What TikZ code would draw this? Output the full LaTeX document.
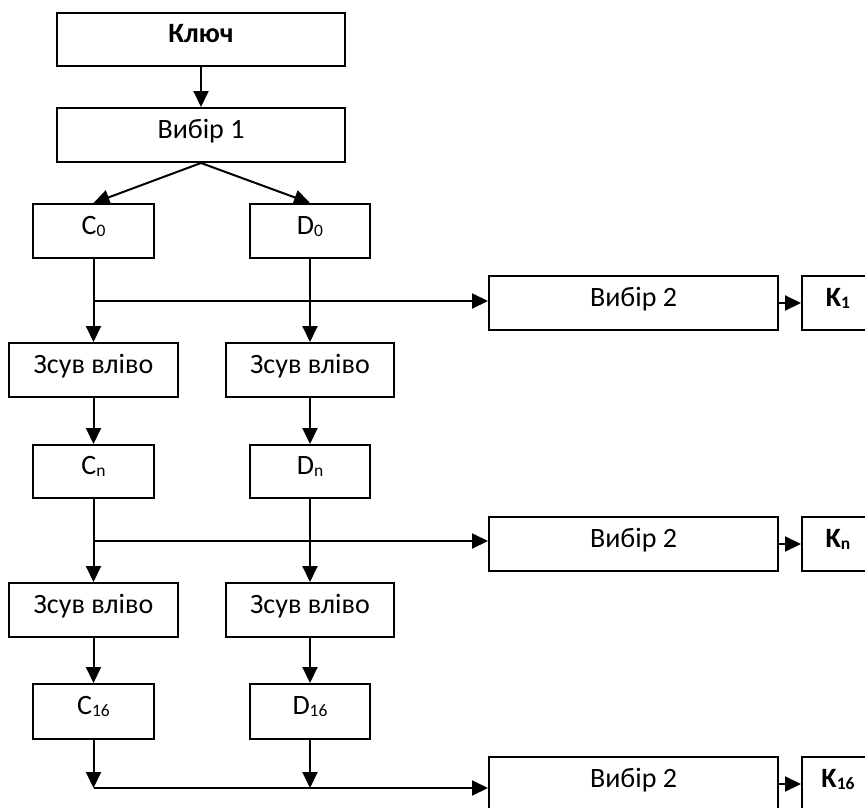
\documentclass[tikz,border=0pt]{standalone}
\usepackage{fontspec}
\setmainfont{Carlito}
\usetikzlibrary{arrows.meta}
% small lowered index, as in C0, Dn, K16
\newcommand\idx[1]{\raisebox{-2pt}{\fontsize{17.5}{18}\selectfont #1}}
\newcommand\boxfont{\fontsize{28}{34}\selectfont}
\begin{document}
\begin{tikzpicture}[x=1pt,y=-1pt,
  box/.style={draw, line width=2pt, minimum height=54pt, inner sep=0pt,
    text height=12pt, text depth=6pt, font=\boxfont},
  boldbox/.style={box, font=\boxfont\bfseries},
  arr/.style={line width=2pt, -{Triangle[length=16pt,width=15pt]}}]
\useasboundingbox (0,0) rectangle (865,808);
\fill[white] (0,0) rectangle (865,808);
\clip (0,0) rectangle (865,808);

% key and first permuted choice
\node[boldbox, minimum width=288pt, minimum height=53pt] (key) at (201,39.5) {Ключ};
\node[box, minimum width=288pt] (sel1) at (201,135) {Вибір 1};

% C and D halves
\node[box, minimum width=121pt] (c0) at (93.5,231) {C\idx{0}};
\node[box, minimum width=120pt] (d0) at (310,231) {D\idx{0}};
\node[box, minimum width=169pt] (sa1) at (93.5,370) {Зсув вліво};
\node[box, minimum width=168pt] (sb1) at (310,370) {Зсув вліво};
\node[box, minimum width=121pt, minimum height=53pt] (cn) at (93.5,471.5) {C\idx{n}};
\node[box, minimum width=120pt, minimum height=53pt] (dn) at (310,471.5) {D\idx{n}};
\node[box, minimum width=169pt] (sa2) at (93.5,610) {Зсув вліво};
\node[box, minimum width=168pt] (sb2) at (310,610) {Зсув вліво};
\node[box, minimum width=121pt, minimum height=55pt] (c16) at (93.5,711.5) {C\idx{16}};
\node[box, minimum width=120pt, minimum height=55pt] (d16) at (310,711.5) {D\idx{16}};

% second permuted choice and round keys
\node[box, minimum width=289pt] (v1) at (633.5,303) {Вибір 2};
\node[boldbox, minimum width=72pt] (k1) at (838,303) {K\idx{1}};
\node[box, minimum width=289pt] (v2) at (633.5,544) {Вибір 2};
\node[boldbox, minimum width=72pt] (kn) at (838,544) {K\idx{n}};
\node[box, minimum width=289pt] (v3) at (633.5,784) {Вибір 2};
\node[boldbox, minimum width=72pt] (k16) at (838,784) {K\idx{16}};

% branch points
\coordinate (j1) at (93.5,301);
\coordinate (j2) at (93.5,541);
\coordinate (j3) at (93.5,788);
\coordinate (e3) at (310,788);

% connectors
\draw[arr] (key) -- (sel1);
\draw[arr] (sel1.south) -- (c0.north);
\draw[arr] (sel1.south) -- (d0.north);

\draw[arr] (c0) -- (sa1);
\draw[arr] (d0) -- (sb1);
\draw[arr] (j1) -- (j1 -| v1.west);
\draw[arr] (v1) -- (k1);

\draw[arr] (sa1) -- (cn);
\draw[arr] (sb1) -- (dn);
\draw[arr] (cn) -- (sa2);
\draw[arr] (dn) -- (sb2);
\draw[arr] (j2) -- (j2 -| v2.west);
\draw[arr] (v2) -- (kn);

\draw[arr] (sa2) -- (c16);
\draw[arr] (sb2) -- (d16);
\draw[arr] (c16.south) -- (j3);
\draw[arr] (d16.south) -- (e3);
\draw[arr] (j3) -- (j3 -| v3.west);
\draw[arr] (v3) -- (k16);
\end{tikzpicture}
\end{document}
